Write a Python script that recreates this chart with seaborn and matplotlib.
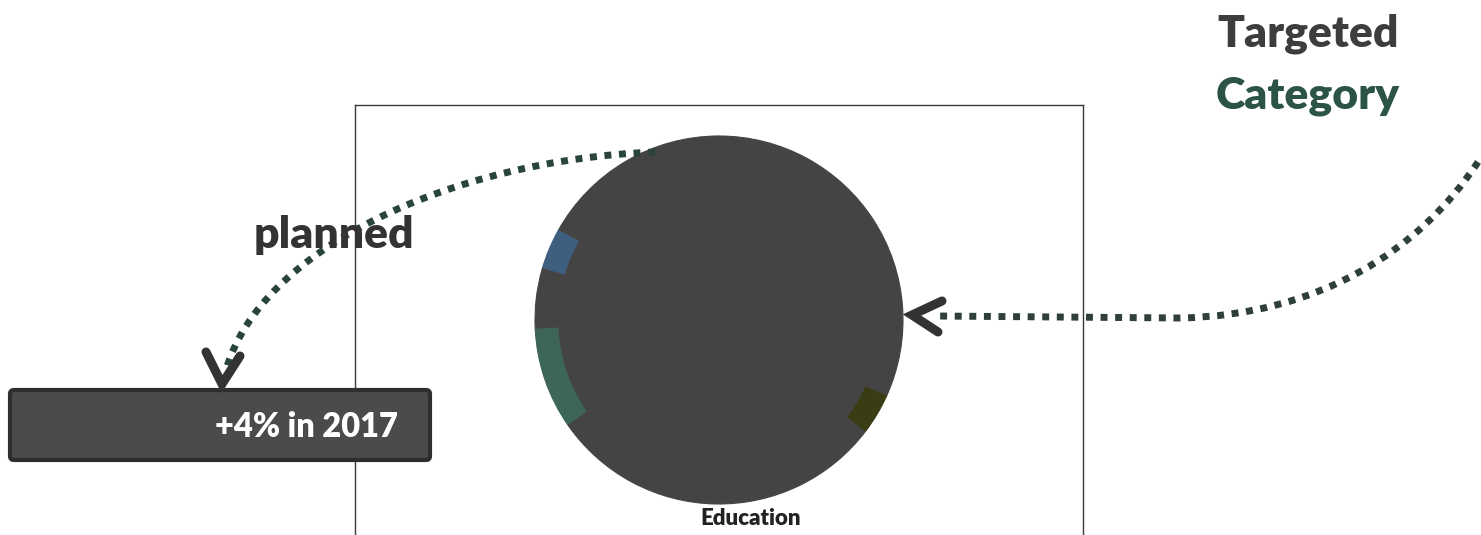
import matplotlib
matplotlib.use("Agg")
import matplotlib.pyplot as plt
import seaborn as sns
from matplotlib.path import Path
from matplotlib.patches import PathPatch, FancyBboxPatch

# Budget shares (percent), drawn counter-clockwise from 12 o'clock
categories = ["Social", "Housing", "Culture", "Environment",
              "Education", "Transport", "Administration"]
shares = [16.9, 3.6, 5.3, 8.9, 30.0, 3.6, 31.7]
slice_colors = ["#444444", "#3f5f80", "#444444", "#3d6656",
                "#444444", "#3a3c14", "#444444"]

callout_text = "+4% in 2017"
plan_text = "planned"
target_title = ["Targeted", "Category"]
highlight = "Education"

sns.set_theme(style="white")
plt.rcParams["font.family"] = ["Lato", "DejaVu Sans"]

W, H = 1481, 535
fig = plt.figure(figsize=(W / 100, H / 100), dpi=100)
fig.patch.set_facecolor("white")

# Pie panel: framed on the left, top and right
left, top, right = 355, 105, 1083
ax = fig.add_axes([left / W, 0, (right - left) / W, (H - top) / H])
cx, cy, r = 719, 320, 184
wedges, _ = ax.pie(shares, colors=slice_colors, startangle=90,
                   counterclock=True, radius=1.0, frame=True)
for w, c in zip(wedges, slice_colors):
    w.set_edgecolor(c)
    w.set_linewidth(0.8)
# inner disc in the base grey, leaving the category colours as an outer rim
ax.pie(shares, colors=["#444444"] * len(shares), startangle=90,
       counterclock=True, radius=0.87, frame=True,
       wedgeprops=dict(linewidth=1.0, edgecolor="#444444"))
ax.set_aspect("auto")
ax.set_xlim(-(cx - left) / r, (right - cx) / r)
ax.set_ylim(-(H - cy) / r, (cy - top) / r)
ax.set_xticks([])
ax.set_yticks([])
for side in ("left", "top", "right"):
    ax.spines[side].set_visible(True)
    ax.spines[side].set_color("#3a3a3a")
    ax.spines[side].set_linewidth(1.0)
ax.spines["bottom"].set_visible(False)
ax.text(0.17, -1.08, highlight, ha="center", va="center",
        fontsize=16, fontweight="heavy", color="#222222")

# Annotation layer in pixel coordinates
ov = fig.add_axes([0, 0, 1, 1], zorder=5)
ov.set_xlim(0, W)
ov.set_ylim(H, 0)
ov.axis("off")
ov.patch.set_alpha(0)

dot = dict(fill=False, linewidth=5, linestyle=(0, (1, 1.1)),
           capstyle="butt")

# curve from the top of the pie down to the callout box
p1 = Path([(655, 152), (450, 160), (260, 250), (226, 370)],
          [Path.MOVETO, Path.CURVE4, Path.CURVE4, Path.CURVE4])
ov.add_patch(PathPatch(p1, edgecolor="#28443b", **dot))
ov.plot([206, 222, 240], [352, 384, 356], color="#333333", lw=6.5,
        solid_capstyle="round", solid_joinstyle="miter")

# curve from the title towards the right edge of the pie
p2 = Path([(1478, 162), (1420, 250), (1320, 315), (1180, 318), (935, 316)],
          [Path.MOVETO, Path.CURVE4, Path.CURVE4, Path.CURVE4, Path.LINETO])
ov.add_patch(PathPatch(p2, edgecolor="#2f3f3a", **dot))
ov.plot([942, 912, 938], [301, 315, 332], color="#333333", lw=6.5,
        solid_capstyle="round", solid_joinstyle="miter")

# callout box
box = FancyBboxPatch((10, 390), 420, 70,
                     boxstyle="round,pad=0,rounding_size=4",
                     facecolor="#4b4b4b", edgecolor="#2e2e2e", linewidth=3)
ov.add_patch(box)
ov.text(398, 427, callout_text, ha="right", va="center", fontsize=23.5,
        fontweight="heavy", color="white")

ov.text(254, 248, plan_text, ha="left", va="baseline", fontsize=32,
        fontweight="heavy", color="#333333")
ov.text(1217, 46, target_title[0], ha="left", va="baseline", fontsize=32,
        fontweight="heavy", color="#3d3d3d")
ov.text(1216, 108, target_title[1], ha="left", va="baseline", fontsize=32,
        fontweight="heavy", color="#2c5446")

fig.savefig("out.png", dpi=100, facecolor="white")
